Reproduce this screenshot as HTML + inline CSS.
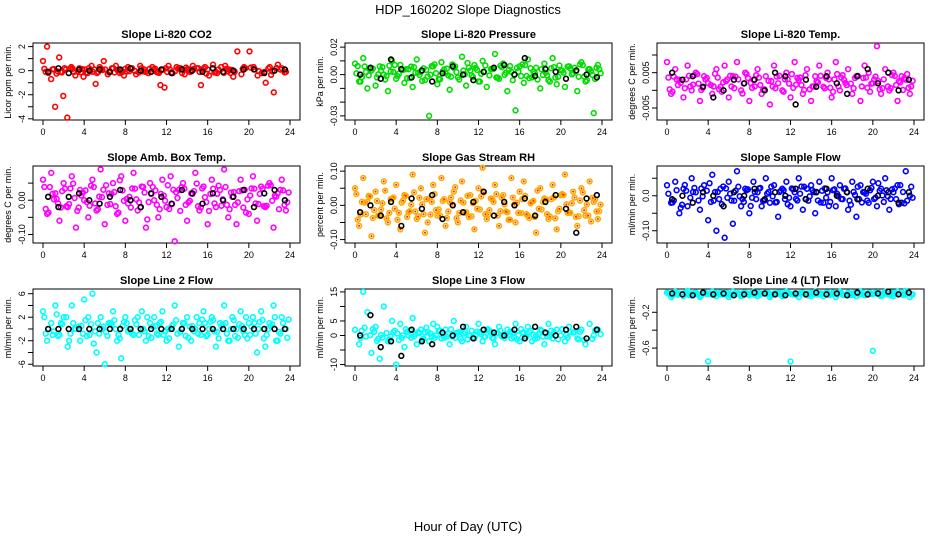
<!DOCTYPE html>
<html><head><meta charset="utf-8"><style>
body{margin:0;background:#fff}
svg{display:block;font-family:"Liberation Sans",sans-serif}
</style></head><body>
<svg id="c" width="936" height="540">
<text x="468" y="14" text-anchor="middle" font-size="13">HDP_160202  Slope Diagnostics</text>
<text x="468" y="531" text-anchor="middle" font-size="13">Hour of Day (UTC)</text>
</svg>
<script>
const xTicks=[0,4,8,12,16,20,24];
const titles=["Slope Li-820 CO2","Slope Li-820 Pressure","Slope Li-820 Temp.","Slope Amb. Box Temp.","Slope Gas Stream RH","Slope Sample Flow","Slope Line 2 Flow","Slope Line 3 Flow","Slope Line 4 (LT) Flow"];
const yTitles=["Licor ppm per min.","kPa per min.","degrees C per min.","degrees C per min.","percent per min.","ml/min per min.","ml/min per min.","ml/min per min.","ml/min per min."];
const yRanges=[[-4.1,2.3],[-0.033,0.023],[-0.0084,0.0134],[-0.125,0.1],[-0.11,0.115],[-0.135,0.085],[-6.3,6.8],[-10.5,16],[-0.8,0.06]];
const yTickVals=[[-4,-3,-2,-1,0,1,2],[-0.03,-0.02,-0.01,0,0.01,0.02],[-0.005,0,0.005,0.01],[-0.1,-0.05,0,0.05],[-0.1,-0.05,0,0.05,0.1],[-0.1,-0.05,0,0.05],[-6,-4,-2,0,2,4,6],[-10,-5,0,5,10,15],[-0.6,-0.4,-0.2]];
const yTickLabels=[["-4","","-2","","0","","2"],["-0.03","","","0.00","","0.02"],["-0.005","","0.005",""],["-0.10","","0.00",""],["-0.10","","0.00","","0.10"],["-0.10","","0.0",""],["-6","","-2","","2","","6"],["-10","","0","5","","15"],["-0.6","","-0.2"]];
const colors=["#ff0000","#00dd00","#ff00ff","#ff00ff","#ffaa00","#0000ff","#00ffff","#00ffff","#00ffff"];
const s1=[0.8,2.0,-0.7,-3.0,1.1,-2.1,-3.9,0.3,-0.4,0.2,-0.5,-0.2,0.4,-1.1,0.3,0.8,-0.3,0.2,0.4,-0.2,-0.4,0.3,0.2,-0.3,0.4,0.1,-0.2,0.3,-0.1,-1.2,-1.4,0.4,-0.2,0.3,0.2,-0.3,0.1,0.4,0.2,-1.2,0.3,-0.4,0.5,-0.2,0.3,0.4,0.1,-0.5,1.6,-0.3,0.2,1.6,0.3,-0.4,-0.2,-1.0,0.3,-1.8,0.5,0.2,-0.1];
const s2=[0.008,-0.005,0.012,-0.01,0.003,-0.008,0.006,0.0,-0.012,0.01,-0.003,0.007,-0.006,0.004,-0.009,0.011,0.002,-0.004,-0.03,0.006,-0.007,0.009,0.001,-0.011,0.005,-0.002,0.013,-0.008,0.003,0.007,-0.005,0.01,-0.009,0.004,0.015,-0.003,0.008,-0.012,0.002,-0.026,0.006,-0.006,0.011,-0.002,0.005,-0.01,0.008,-0.004,0.012,-0.007,0.003,-0.009,0.006,0.001,-0.012,0.009,-0.005,0.004,-0.028,0.007];
const s3=[0.008,-0.001,0.006,0.003,-0.002,0.007,0.0,0.005,-0.003,0.004,0.002,-0.001,0.006,0.001,0.007,-0.002,0.004,0.008,0.0,0.005,-0.003,0.003,0.006,-0.001,0.004,-0.004,0.007,0.002,0.0,0.005,-0.002,0.008,0.003,-0.001,0.006,-0.003,0.004,0.007,0.001,0.005,-0.002,0.008,0.0,0.003,0.006,-0.001,0.004,-0.003,0.007,0.005,0.002,0.0125,-0.001,0.006,0.0,0.005,-0.003,0.004,0.003,-0.001];
const s4=[0.06,-0.04,0.08,0.02,-0.06,0.05,-0.02,0.07,-0.08,0.03,0.0,-0.05,0.06,-0.03,0.09,-0.07,0.02,0.05,-0.04,0.07,-0.06,0.01,0.08,-0.03,0.04,-0.08,0.05,0.0,-0.05,0.06,-0.02,0.07,-0.12,0.03,0.05,-0.06,0.02,0.08,-0.03,0.04,-0.07,0.06,-0.02,0.03,0.09,-0.05,0.01,-0.07,0.06,0.03,-0.04,0.07,-0.06,0.04,-0.02,0.05,-0.08,0.02,0.06,-0.03];
const s5=[0.05,-0.06,0.08,0.01,-0.09,0.04,-0.03,0.07,-0.05,0.02,0.06,-0.07,0.03,-0.02,0.09,-0.04,0.05,-0.08,0.02,0.06,-0.03,0.08,-0.06,0.01,0.04,-0.05,0.07,-0.02,0.03,-0.07,0.05,0.11,-0.04,0.02,0.06,-0.06,0.03,-0.02,0.08,-0.05,0.04,0.07,-0.03,0.01,-0.08,0.05,0.02,-0.04,0.06,-0.07,0.03,0.09,-0.02,0.04,-0.06,0.05,-0.03,0.07,0.01,-0.04];
const s6=[0.03,-0.02,0.04,-0.05,0.02,-0.03,0.05,0.01,-0.04,0.03,-0.07,0.06,-0.10,0.02,-0.12,0.04,-0.08,0.07,-0.03,0.02,-0.05,0.04,0.01,-0.03,0.05,-0.02,0.03,-0.06,0.02,0.04,-0.03,0.01,0.05,-0.04,0.02,0.03,-0.05,0.04,-0.02,0.01,0.05,-0.03,0.03,0.02,-0.04,0.04,-0.06,0.03,0.01,-0.02,0.04,-0.03,0.02,0.05,-0.04,0.01,0.03,-0.02,0.07,0.0];
const s7=[3,-2,1,4,-1,2,-3,4,0,-2,5,2,6,-4,2,-6,1,3,-2,-5,2,0,-1,2,3,-2,1,2,-1,3,-2,0,4,-3,1,2,-2,0,1,3,-1,2,-3,1,4,-2,2,0,3,-1,1,2,-4,3,-3,1,4,-2,2,0];
const s8=[2,-3,15,8,-6,3,-8,10,-2,5,-10,4,-4,0,6,-3,2,1,-2,4,3,-1,2,-3,5,1,-2,3,0,-1,4,-2,2,1,-3,3,0,2,-1,4,-2,1,3,-2,0,2,-3,4,-1,2,0,-2,3,1,-1,2,-3,4,0,2];
const s9=[0.02,-0.03,0.03,0.01,-0.02,0.04,-0.01,0.02,-0.03,0.01,-0.75,0.03,-0.02,0.02,0.0,-0.03,0.03,0.01,-0.02,0.02,-0.01,0.03,-0.02,0.01,0.02,-0.03,0.01,0.02,-0.02,0.03,-0.75,0.01,-0.03,0.02,0.01,-0.02,0.03,0.0,-0.02,0.02,0.01,-0.03,0.03,-0.01,0.02,0.01,-0.02,0.03,-0.01,0.02,-0.63,0.01,-0.02,0.03,0.0,-0.02,0.03,0.01,0.04,-0.03];
const b1=[-0.1,0.2,-0.2,0.1,0.0,0.1,-0.1,0.1,0.2,0.0,-0.1,0.1,-0.2,0.1,0.0,-0.1,0.2,-0.1,0.0,0.1,0.1,-0.2,0.0,0.1];
const b2=[0.0,0.005,-0.003,0.011,0.004,-0.002,0.003,-0.005,0.001,0.006,0.0,-0.004,0.002,0.005,0.007,0.0,0.012,-0.001,0.004,0.002,-0.003,0.003,0.0,-0.002];
const b3=[0.005,0.003,0.004,0.001,-0.002,0.0,0.003,0.002,0.003,0.0,0.005,0.004,-0.004,0.003,0.001,0.004,0.002,-0.001,0.004,0.006,0.002,0.005,0.0,0.003];
const b4=[0.01,-0.02,0.01,0.02,0.0,-0.01,0.01,0.03,0.0,-0.02,0.02,0.01,-0.01,0.03,0.02,-0.01,0.02,0.0,0.01,0.03,-0.02,0.02,0.03,0.0];
const b5=[-0.02,0.0,-0.03,0.01,-0.06,0.02,-0.01,0.03,-0.04,0.0,-0.02,0.01,0.04,-0.03,0.01,0.0,0.02,-0.03,0.01,0.03,-0.01,-0.08,0.02,0.03];
const b6=[-0.01,0.0,-0.02,0.01,0.0,-0.03,0.01,0.0,0.02,-0.01,0.01,0.0,0.02,-0.01,0.01,0.02,0.0,0.01,-0.01,0.02,0.0,0.01,-0.02,0.01];
const b7=[0,0,0,0,0,0,0,0,0,0,0,0,0,0,0,0,0,0,0,0,0,0,0,0];
const b8=[0,7,-4,-2,-7,2,-2,-3,1,0,3,-1,2,1,0,2,-1,3,1,0,2,3,-1,2];
const b9=[0.01,0.0,-0.01,0.02,0.0,0.01,-0.01,0.0,0.02,0.01,0.0,-0.01,0.01,0.0,0.02,0.0,0.01,-0.01,0.02,0.0,0.01,0.03,0.0,0.02];
const series=[s1,s2,s3,s4,s5,s6,s7,s8,s9];
const blacks=[b1,b2,b3,b4,b5,b6,b7,b8,b9];

const NS="http://www.w3.org/2000/svg";
const svg=document.getElementById('c');
function mk(t,a,p){const e=document.createElementNS(NS,t);for(const k in a)e.setAttribute(k,a[k]);(p||svg).appendChild(e);return e;}
const colL=[33,345,657], rowT=[43,166,289], W=267, H=77;
for(let p=0;p<9;p++){
  const L=colL[p%3], T=rowT[Math.floor(p/3)];
  const g=mk('g',{});
  
  
  const x0=L+10, x1=L+W-10;
  const xs=v=>x0+(v/24)*(x1-x0);
  const [lo,hi]=yRanges[p];
  const ys=v=>T+H-(v-lo)/(hi-lo)*H;
  const t=mk('text',{x:L+W/2,y:T-5,'text-anchor':'middle','font-size':11,'font-weight':'bold'},g);
  t.textContent=titles[p];
  
  
  const fr=mk('rect',{x:L,y:T,width:W,height:H,fill:'none',stroke:'#000','stroke-width':1},g);
  
  
  xTicks.forEach(v=>{
    mk('line',{x1:xs(v),x2:xs(v),y1:T+H,y2:T+H+5,stroke:'#000'},g);
    const tl=mk('text',{x:xs(v),y:T+H+15,'text-anchor':'middle','font-size':9},g);
    tl.textContent=v;
    
    
  });
  yTickVals[p].forEach((v,i)=>{
    const y=ys(v);
    mk('line',{x1:L-5,x2:L,y1:y,y2:y,stroke:'#000'},g);
    const lab=yTickLabels[p][i];
    if(lab){const tl=mk('text',{x:L-8,y:y,'text-anchor':'middle','font-size':9,transform:`rotate(-90 ${L-8} ${y})`},g);
    tl.textContent=lab;
    
    }
  });
  const yt=mk('text',{x:L-22,y:T+H/2,'text-anchor':'middle','font-size':9,transform:`rotate(-90 ${L-22} ${T+H/2})`},g);
  yt.textContent=yTitles[p];
  
  
  const s=series[p], n=s.length;
  const absS=s.map(Math.abs).sort((a,b)=>a-b), med=absS[Math.floor(n/2)];
  const center=blacks[p].reduce((a,b)=>a+b,0)/blacks[p].length;
  for(let pass=0;pass<3;pass++){
    s.forEach((v,i)=>{
      const hx=(i+pass*0.33)*24/n;
      let vv=v;
      if(pass>0){
        const w=s[(i+7*pass)%n];
        if(Math.abs(w)>2.5*med) return;
        vv=center+(w-center)*(pass===1?0.5:-0.4);
      }
      const c=mk('circle',{cx:xs(hx),cy:ys(vv),r:2.4,fill:'none',stroke:colors[p],'stroke-width':1.6},g);
      
      
      if(p===4){mk('circle',{cx:xs(hx),cy:ys(vv),r:1,fill:'#ff2200'},g);}
    });
  }
  blacks[p].forEach((v,i)=>{
    const c=mk('circle',{cx:xs(i+0.5),cy:ys(v),r:2.4,fill:'none',stroke:'#000','stroke-width':1.6},g);
    
    
  });
}
</script>
</body></html>
